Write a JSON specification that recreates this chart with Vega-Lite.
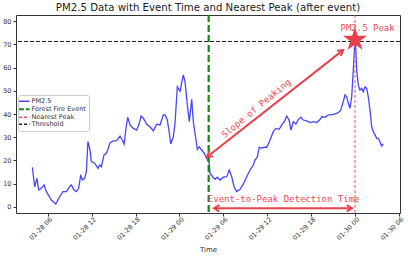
{
  "$schema": "https://vega.github.io/schema/vega-lite/v6.json",
  "width": 384,
  "height": 198,
  "autosize": {"type": "none"},
  "padding": {"left": 16, "top": 15, "right": 8, "bottom": 45},
  "background": "white",
  "config": {
    "font": "DejaVu Sans",
    "view": {"stroke": "#333333", "strokeWidth": 1},
    "axis": {"grid": false, "domain": false, "labelFont": "DejaVu Sans", "labelFontSize": 6.5, "labelColor": "#333333", "tickColor": "#333333", "tickSize": 3, "titleFont": "DejaVu Sans", "titleFontSize": 7, "titleFontWeight": "normal", "titleColor": "#333333"}
  },
  "title": {"text": "PM2.5 Data with Event Time and Nearest Peak (after event)", "fontSize": 10.2, "font": "DejaVu Sans", "fontWeight": "normal", "color": "#222222", "anchor": "middle", "offset": 1},
  "layer": [
    {
      "data": {"values": [
      {"time": "2024-01-28T03:54", "pm25": 17.1, "series": "PM2.5"},
      {"time": "2024-01-28T04:13", "pm25": 8.7, "series": "PM2.5"},
      {"time": "2024-01-28T04:32", "pm25": 12.3, "series": "PM2.5"},
      {"time": "2024-01-28T04:46", "pm25": 7.3, "series": "PM2.5"},
      {"time": "2024-01-28T05:07", "pm25": 8.0, "series": "PM2.5"},
      {"time": "2024-01-28T05:30", "pm25": 9.5, "series": "PM2.5"},
      {"time": "2024-01-28T05:49", "pm25": 6.6, "series": "PM2.5"},
      {"time": "2024-01-28T06:30", "pm25": 3.0, "series": "PM2.5"},
      {"time": "2024-01-28T07:06", "pm25": 1.3, "series": "PM2.5"},
      {"time": "2024-01-28T07:38", "pm25": 4.4, "series": "PM2.5"},
      {"time": "2024-01-28T08:05", "pm25": 6.6, "series": "PM2.5"},
      {"time": "2024-01-28T08:33", "pm25": 6.6, "series": "PM2.5"},
      {"time": "2024-01-28T09:00", "pm25": 8.7, "series": "PM2.5"},
      {"time": "2024-01-28T09:14", "pm25": 9.5, "series": "PM2.5"},
      {"time": "2024-01-28T09:36", "pm25": 7.3, "series": "PM2.5"},
      {"time": "2024-01-28T09:55", "pm25": 6.6, "series": "PM2.5"},
      {"time": "2024-01-28T10:14", "pm25": 8.0, "series": "PM2.5"},
      {"time": "2024-01-28T10:31", "pm25": 13.8, "series": "PM2.5"},
      {"time": "2024-01-28T10:44", "pm25": 11.6, "series": "PM2.5"},
      {"time": "2024-01-28T11:03", "pm25": 12.3, "series": "PM2.5"},
      {"time": "2024-01-28T11:17", "pm25": 15.2, "series": "PM2.5"},
      {"time": "2024-01-28T11:30", "pm25": 28.1, "series": "PM2.5"},
      {"time": "2024-01-28T11:47", "pm25": 24.5, "series": "PM2.5"},
      {"time": "2024-01-28T11:58", "pm25": 19.5, "series": "PM2.5"},
      {"time": "2024-01-28T12:25", "pm25": 18.8, "series": "PM2.5"},
      {"time": "2024-01-28T12:52", "pm25": 16.6, "series": "PM2.5"},
      {"time": "2024-01-28T13:06", "pm25": 18.0, "series": "PM2.5"},
      {"time": "2024-01-28T13:20", "pm25": 17.3, "series": "PM2.5"},
      {"time": "2024-01-28T13:42", "pm25": 22.4, "series": "PM2.5"},
      {"time": "2024-01-28T14:01", "pm25": 23.1, "series": "PM2.5"},
      {"time": "2024-01-28T14:17", "pm25": 25.2, "series": "PM2.5"},
      {"time": "2024-01-28T14:31", "pm25": 27.7, "series": "PM2.5"},
      {"time": "2024-01-28T14:58", "pm25": 28.4, "series": "PM2.5"},
      {"time": "2024-01-28T15:26", "pm25": 28.5, "series": "PM2.5"},
      {"time": "2024-01-28T15:39", "pm25": 29.5, "series": "PM2.5"},
      {"time": "2024-01-28T15:53", "pm25": 30.5, "series": "PM2.5"},
      {"time": "2024-01-28T16:12", "pm25": 28.8, "series": "PM2.5"},
      {"time": "2024-01-28T16:26", "pm25": 27.0, "series": "PM2.5"},
      {"time": "2024-01-28T16:42", "pm25": 33.8, "series": "PM2.5"},
      {"time": "2024-01-28T16:56", "pm25": 38.6, "series": "PM2.5"},
      {"time": "2024-01-28T17:15", "pm25": 35.3, "series": "PM2.5"},
      {"time": "2024-01-28T17:42", "pm25": 33.8, "series": "PM2.5"},
      {"time": "2024-01-28T18:10", "pm25": 33.1, "series": "PM2.5"},
      {"time": "2024-01-28T18:31", "pm25": 36.0, "series": "PM2.5"},
      {"time": "2024-01-28T18:45", "pm25": 39.1, "series": "PM2.5"},
      {"time": "2024-01-28T19:04", "pm25": 38.2, "series": "PM2.5"},
      {"time": "2024-01-28T19:32", "pm25": 35.6, "series": "PM2.5"},
      {"time": "2024-01-28T19:59", "pm25": 34.5, "series": "PM2.5"},
      {"time": "2024-01-28T20:26", "pm25": 32.8, "series": "PM2.5"},
      {"time": "2024-01-28T20:54", "pm25": 35.6, "series": "PM2.5"},
      {"time": "2024-01-28T21:21", "pm25": 35.3, "series": "PM2.5"},
      {"time": "2024-01-28T21:48", "pm25": 39.6, "series": "PM2.5"},
      {"time": "2024-01-28T22:02", "pm25": 39.6, "series": "PM2.5"},
      {"time": "2024-01-28T22:21", "pm25": 37.4, "series": "PM2.5"},
      {"time": "2024-01-28T22:37", "pm25": 32.0, "series": "PM2.5"},
      {"time": "2024-01-28T22:49", "pm25": 27.1, "series": "PM2.5"},
      {"time": "2024-01-28T23:10", "pm25": 30.2, "series": "PM2.5"},
      {"time": "2024-01-28T23:24", "pm25": 36.0, "series": "PM2.5"},
      {"time": "2024-01-28T23:43", "pm25": 51.7, "series": "PM2.5"},
      {"time": "2024-01-29T00:05", "pm25": 49.8, "series": "PM2.5"},
      {"time": "2024-01-29T00:32", "pm25": 56.8, "series": "PM2.5"},
      {"time": "2024-01-29T00:46", "pm25": 53.9, "series": "PM2.5"},
      {"time": "2024-01-29T01:05", "pm25": 43.9, "series": "PM2.5"},
      {"time": "2024-01-29T01:21", "pm25": 36.7, "series": "PM2.5"},
      {"time": "2024-01-29T01:41", "pm25": 46.3, "series": "PM2.5"},
      {"time": "2024-01-29T01:54", "pm25": 36.7, "series": "PM2.5"},
      {"time": "2024-01-29T02:16", "pm25": 28.8, "series": "PM2.5"},
      {"time": "2024-01-29T02:27", "pm25": 24.8, "series": "PM2.5"},
      {"time": "2024-01-29T02:43", "pm25": 25.9, "series": "PM2.5"},
      {"time": "2024-01-29T03:03", "pm25": 24.5, "series": "PM2.5"},
      {"time": "2024-01-29T03:24", "pm25": 23.1, "series": "PM2.5"},
      {"time": "2024-01-29T03:44", "pm25": 20.9, "series": "PM2.5"},
      {"time": "2024-01-29T04:05", "pm25": 18.8, "series": "PM2.5"},
      {"time": "2024-01-29T04:11", "pm25": 14.5, "series": "PM2.5"},
      {"time": "2024-01-29T04:33", "pm25": 13.0, "series": "PM2.5"},
      {"time": "2024-01-29T04:52", "pm25": 11.9, "series": "PM2.5"},
      {"time": "2024-01-29T05:11", "pm25": 12.8, "series": "PM2.5"},
      {"time": "2024-01-29T05:33", "pm25": 11.6, "series": "PM2.5"},
      {"time": "2024-01-29T06:00", "pm25": 12.8, "series": "PM2.5"},
      {"time": "2024-01-29T06:28", "pm25": 13.0, "series": "PM2.5"},
      {"time": "2024-01-29T06:49", "pm25": 15.9, "series": "PM2.5"},
      {"time": "2024-01-29T07:09", "pm25": 13.0, "series": "PM2.5"},
      {"time": "2024-01-29T07:28", "pm25": 8.7, "series": "PM2.5"},
      {"time": "2024-01-29T07:50", "pm25": 6.6, "series": "PM2.5"},
      {"time": "2024-01-29T08:17", "pm25": 7.6, "series": "PM2.5"},
      {"time": "2024-01-29T08:44", "pm25": 9.8, "series": "PM2.5"},
      {"time": "2024-01-29T09:12", "pm25": 13.0, "series": "PM2.5"},
      {"time": "2024-01-29T09:39", "pm25": 15.9, "series": "PM2.5"},
      {"time": "2024-01-29T10:06", "pm25": 18.0, "series": "PM2.5"},
      {"time": "2024-01-29T10:20", "pm25": 20.2, "series": "PM2.5"},
      {"time": "2024-01-29T10:39", "pm25": 21.6, "series": "PM2.5"},
      {"time": "2024-01-29T10:55", "pm25": 25.7, "series": "PM2.5"},
      {"time": "2024-01-29T11:15", "pm25": 25.2, "series": "PM2.5"},
      {"time": "2024-01-29T11:34", "pm25": 25.7, "series": "PM2.5"},
      {"time": "2024-01-29T11:56", "pm25": 25.7, "series": "PM2.5"},
      {"time": "2024-01-29T12:23", "pm25": 28.8, "series": "PM2.5"},
      {"time": "2024-01-29T12:50", "pm25": 32.4, "series": "PM2.5"},
      {"time": "2024-01-29T13:12", "pm25": 33.8, "series": "PM2.5"},
      {"time": "2024-01-29T13:39", "pm25": 33.4, "series": "PM2.5"},
      {"time": "2024-01-29T13:59", "pm25": 35.3, "series": "PM2.5"},
      {"time": "2024-01-29T14:20", "pm25": 36.7, "series": "PM2.5"},
      {"time": "2024-01-29T14:40", "pm25": 39.1, "series": "PM2.5"},
      {"time": "2024-01-29T14:59", "pm25": 37.4, "series": "PM2.5"},
      {"time": "2024-01-29T15:15", "pm25": 33.1, "series": "PM2.5"},
      {"time": "2024-01-29T15:34", "pm25": 36.7, "series": "PM2.5"},
      {"time": "2024-01-29T15:56", "pm25": 35.7, "series": "PM2.5"},
      {"time": "2024-01-29T16:15", "pm25": 37.7, "series": "PM2.5"},
      {"time": "2024-01-29T16:37", "pm25": 38.6, "series": "PM2.5"},
      {"time": "2024-01-29T16:56", "pm25": 37.4, "series": "PM2.5"},
      {"time": "2024-01-29T17:24", "pm25": 37.0, "series": "PM2.5"},
      {"time": "2024-01-29T17:51", "pm25": 36.3, "series": "PM2.5"},
      {"time": "2024-01-29T18:18", "pm25": 36.7, "series": "PM2.5"},
      {"time": "2024-01-29T18:46", "pm25": 36.3, "series": "PM2.5"},
      {"time": "2024-01-29T19:13", "pm25": 37.6, "series": "PM2.5"},
      {"time": "2024-01-29T19:27", "pm25": 38.8, "series": "PM2.5"},
      {"time": "2024-01-29T19:54", "pm25": 38.6, "series": "PM2.5"},
      {"time": "2024-01-29T20:21", "pm25": 39.6, "series": "PM2.5"},
      {"time": "2024-01-29T20:49", "pm25": 39.6, "series": "PM2.5"},
      {"time": "2024-01-29T21:16", "pm25": 40.0, "series": "PM2.5"},
      {"time": "2024-01-29T21:43", "pm25": 40.6, "series": "PM2.5"},
      {"time": "2024-01-29T22:03", "pm25": 41.7, "series": "PM2.5"},
      {"time": "2024-01-29T22:24", "pm25": 45.3, "series": "PM2.5"},
      {"time": "2024-01-29T22:38", "pm25": 48.2, "series": "PM2.5"},
      {"time": "2024-01-29T22:52", "pm25": 47.4, "series": "PM2.5"},
      {"time": "2024-01-29T23:05", "pm25": 44.6, "series": "PM2.5"},
      {"time": "2024-01-29T23:19", "pm25": 42.5, "series": "PM2.5"},
      {"time": "2024-01-29T23:33", "pm25": 47.4, "series": "PM2.5"},
      {"time": "2024-01-29T23:46", "pm25": 58.9, "series": "PM2.5"},
      {"time": "2024-01-30T00:00", "pm25": 72.0, "series": "PM2.5"},
      {"time": "2024-01-30T00:06", "pm25": 68.9, "series": "PM2.5"},
      {"time": "2024-01-30T00:14", "pm25": 58.9, "series": "PM2.5"},
      {"time": "2024-01-30T00:27", "pm25": 52.5, "series": "PM2.5"},
      {"time": "2024-01-30T00:41", "pm25": 50.3, "series": "PM2.5"},
      {"time": "2024-01-30T00:55", "pm25": 51.0, "series": "PM2.5"},
      {"time": "2024-01-30T01:08", "pm25": 49.6, "series": "PM2.5"},
      {"time": "2024-01-30T01:22", "pm25": 51.7, "series": "PM2.5"},
      {"time": "2024-01-30T01:36", "pm25": 51.0, "series": "PM2.5"},
      {"time": "2024-01-30T01:49", "pm25": 47.4, "series": "PM2.5"},
      {"time": "2024-01-30T02:03", "pm25": 41.7, "series": "PM2.5"},
      {"time": "2024-01-30T02:17", "pm25": 34.5, "series": "PM2.5"},
      {"time": "2024-01-30T02:30", "pm25": 32.4, "series": "PM2.5"},
      {"time": "2024-01-30T02:44", "pm25": 31.0, "series": "PM2.5"},
      {"time": "2024-01-30T02:58", "pm25": 29.5, "series": "PM2.5"},
      {"time": "2024-01-30T03:11", "pm25": 29.5, "series": "PM2.5"},
      {"time": "2024-01-30T03:25", "pm25": 28.1, "series": "PM2.5"},
      {"time": "2024-01-30T03:39", "pm25": 26.2, "series": "PM2.5"},
      {"time": "2024-01-30T03:52", "pm25": 27.1, "series": "PM2.5"}
      ]},
      "mark": {"type": "line", "strokeWidth": 1.3},
      "encoding": {
        "x": {"field": "time", "type": "temporal", "title": "Time",
          "scale": {"domain": [{"year": 2024, "month": 1, "date": 28, "hours": 1, "minutes": 40}, {"year": 2024, "month": 1, "date": 30, "hours": 6, "minutes": 9}]},
          "axis": {"format": "%m-%d %H", "labelAngle": -45, "labelAlign": "right", "labelBaseline": "middle", "labelOffset": 3, "labelPadding": 2, "titlePadding": 4}},
        "y": {"field": "pm25", "type": "quantitative", "title": null,
          "scale": {"domain": [-2.6, 82.6], "nice": false, "zero": false},
          "axis": {"values": [0, 10, 20, 30, 40, 50, 60, 70, 80], "labelPadding": 2}},
        "color": {"field": "series", "type": "nominal",
          "scale": {"domain": ["PM2.5", "Forest Fire Event", "Nearest Peak", "Threshold"], "range": ["#4646ff", "#138a13", "#ff5050", "#222222"]},
          "legend": {"title": null, "orient": "none", "legendX": 2, "legendY": 80, "symbolType": "stroke", "symbolSize": 110, "symbolStrokeWidth": 1.5, "labelFontSize": 6.5, "labelColor": "#333333", "fillColor": "white", "strokeColor": "#cccccc", "padding": 3, "rowPadding": -1, "cornerRadius": 2,
            "encode": {"symbols": {"update": {"strokeDash": {"signal": "datum.value === 'Forest Fire Event' ? [5, 2] : datum.value === 'Nearest Peak' ? [3, 2] : datum.value === 'Threshold' ? [3, 2] : [1, 0]"}, "strokeWidth": {"signal": "datum.value === 'Forest Fire Event' ? 2.2 : 1.3"}}}}}}
      }
    },
    {
      "data": {"values": [{"time": "2024-01-29T04:00", "series": "Forest Fire Event"}]},
      "mark": {"type": "rule", "strokeWidth": 2.2, "strokeDash": [7, 3]},
      "encoding": {
        "x": {"field": "time", "type": "temporal"},
        "color": {"field": "series", "type": "nominal"}
      }
    },
    {
      "data": {"values": [{"time": "2024-01-30T00:00", "series": "Nearest Peak"}]},
      "mark": {"type": "rule", "strokeWidth": 1, "strokeDash": [3, 2]},
      "encoding": {
        "x": {"field": "time", "type": "temporal"},
        "color": {"field": "series", "type": "nominal"}
      }
    },
    {
      "data": {"values": [{"value": 71.2, "series": "Threshold"}]},
      "mark": {"type": "rule", "strokeWidth": 1, "strokeDash": [4, 2]},
      "encoding": {
        "y": {"field": "value", "type": "quantitative", "axis": {"values": [0, 10, 20, 30, 40, 50, 60, 70, 80], "labelPadding": 2}},
        "color": {"field": "series", "type": "nominal"}
      }
    },
    {
      "data": {"values": [
        {"arrow": "slope", "time1": "2024-01-29T03:46", "v1": 21.5, "time2": "2024-01-29T22:22", "v2": 67.5},
        {"arrow": "detection", "time1": "2024-01-29T04:44", "v1": -0.56, "time2": "2024-01-29T23:35", "v2": -0.56}
      ]},
      "layer": [
        {
          "mark": {"type": "rule", "color": "#e8404c", "strokeWidth": 2},
          "encoding": {
            "x": {"field": "time1", "type": "temporal"},
            "y": {"field": "v1", "type": "quantitative", "axis": {"values": [0, 10, 20, 30, 40, 50, 60, 70, 80], "labelPadding": 2}},
            "x2": {"field": "time2"},
            "y2": {"field": "v2"}
          }
        },
        {
          "transform": [{"filter": "datum.arrow === 'slope'"}],
          "mark": {"type": "point", "shape": "M-1,-0.6L0,0L-1,0.6", "filled": false, "stroke": "#e8404c", "strokeWidth": 2, "size": 110, "angle": -38.2, "opacity": 1},
          "encoding": {"x": {"field": "time2", "type": "temporal"}, "y": {"field": "v2", "type": "quantitative", "axis": {"values": [0, 10, 20, 30, 40, 50, 60, 70, 80], "labelPadding": 2}}}
        },
        {
          "transform": [{"filter": "datum.arrow === 'slope'"}],
          "mark": {"type": "point", "shape": "M-1,-0.6L0,0L-1,0.6", "filled": false, "stroke": "#e8404c", "strokeWidth": 2, "size": 110, "angle": 141.8, "opacity": 1},
          "encoding": {"x": {"field": "time1", "type": "temporal"}, "y": {"field": "v1", "type": "quantitative", "axis": {"values": [0, 10, 20, 30, 40, 50, 60, 70, 80], "labelPadding": 2}}}
        },
        {
          "transform": [{"filter": "datum.arrow === 'detection'"}],
          "mark": {"type": "point", "shape": "M-1,-0.6L0,0L-1,0.6", "filled": false, "stroke": "#e8404c", "strokeWidth": 2, "size": 110, "angle": 0, "opacity": 1},
          "encoding": {"x": {"field": "time2", "type": "temporal"}, "y": {"field": "v2", "type": "quantitative", "axis": {"values": [0, 10, 20, 30, 40, 50, 60, 70, 80], "labelPadding": 2}}}
        },
        {
          "transform": [{"filter": "datum.arrow === 'detection'"}],
          "mark": {"type": "point", "shape": "M-1,-0.6L0,0L-1,0.6", "filled": false, "stroke": "#e8404c", "strokeWidth": 2, "size": 110, "angle": 180, "opacity": 1},
          "encoding": {"x": {"field": "time1", "type": "temporal"}, "y": {"field": "v1", "type": "quantitative", "axis": {"values": [0, 10, 20, 30, 40, 50, 60, 70, 80], "labelPadding": 2}}}
        }
      ]
    },
    {
      "data": {"values": [{"time": "2024-01-30T00:00", "pm25": 72.0}]},
      "mark": {"type": "point", "shape": "M0,-1L0.2245,-0.309L0.951,-0.309L0.3633,0.118L0.588,0.809L0,0.382L-0.588,0.809L-0.3633,0.118L-0.951,-0.309L-0.2245,-0.309Z", "filled": true, "color": "#e8404c", "size": 640, "opacity": 1},
      "encoding": {"x": {"field": "time", "type": "temporal"}, "y": {"field": "pm25", "type": "quantitative", "axis": {"values": [0, 10, 20, 30, 40, 50, 60, 70, 80], "labelPadding": 2}}}
    },
    {
      "data": {"values": [
        {"label": "PM2.5 Peak", "time": "2024-01-30T01:43", "value": 76.8},
        {"label": "Event-to-Peak Detection Time", "time": "2024-01-29T14:15", "value": 3.6}
      ]},
      "mark": {"type": "text", "font": "DejaVu Sans Mono", "fontSize": 9, "color": "#ee4a55", "align": "center", "baseline": "middle"},
      "encoding": {"x": {"field": "time", "type": "temporal"}, "y": {"field": "value", "type": "quantitative", "axis": {"values": [0, 10, 20, 30, 40, 50, 60, 70, 80], "labelPadding": 2}}, "text": {"field": "label"}}
    },
    {
      "data": {"values": [{"label": "Slope of Peaking", "time": "2024-01-29T10:28", "value": 42.4}]},
      "mark": {"type": "text", "font": "DejaVu Sans Mono", "fontSize": 9, "color": "#ee4a55", "align": "center", "baseline": "middle", "angle": -39.5},
      "encoding": {"x": {"field": "time", "type": "temporal"}, "y": {"field": "value", "type": "quantitative", "axis": {"values": [0, 10, 20, 30, 40, 50, 60, 70, 80], "labelPadding": 2}}, "text": {"field": "label"}}
    }
  ]
}
